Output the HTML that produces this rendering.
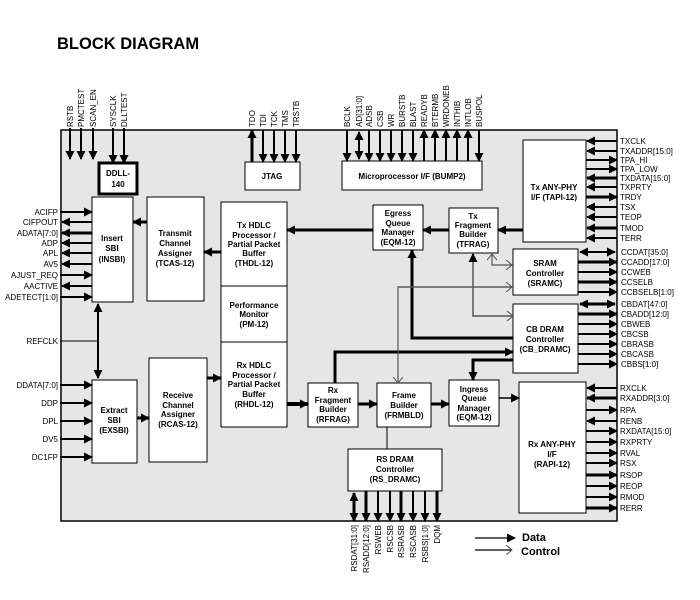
<!DOCTYPE html>
<html><head><meta charset="utf-8"><style>
body{margin:0;background:#fff}
svg{display:block;font-family:"Liberation Sans",sans-serif}
.b{font-weight:bold;font-size:8px;text-anchor:middle}
.p{font-size:8px}
.r{font-size:8px;text-anchor:end}
</style></head><body>
<svg width="700" height="600" viewBox="0 0 700 600">
<defs>
<marker id="a" markerUnits="userSpaceOnUse" markerWidth="9" markerHeight="9" refX="8" refY="4.5" orient="auto-start-reverse"><path d="M0,0L9,4.5L0,9z" fill="#000"/></marker>
<marker id="o" markerUnits="userSpaceOnUse" markerWidth="8" markerHeight="10" refX="7" refY="5" orient="auto-start-reverse"><path d="M1,0L7,5L1,10" fill="none" stroke="#555" stroke-width="1"/></marker>
</defs>
<text x="57" y="49" font-size="16.5" font-weight="bold">BLOCK DIAGRAM</text>
<rect x="61" y="130" width="556" height="391" fill="#e6e6e6" stroke="#000" stroke-width="1.5"/>

<g fill="#fff" stroke="#000" stroke-width="1">
<rect x="99" y="163" width="38" height="31" stroke-width="3"/>
<rect x="245" y="162" width="55" height="28"/>
<rect x="342" y="161" width="140" height="29"/>
<rect x="92" y="197" width="41" height="105"/>
<rect x="147" y="197" width="57" height="104"/>
<rect x="221" y="202" width="66" height="225"/>
<rect x="149" y="358" width="58" height="104"/>
<rect x="92" y="380" width="45" height="83"/>
<rect x="308" y="383" width="50" height="44"/>
<rect x="377" y="383" width="54" height="44"/>
<rect x="449" y="380" width="50" height="46"/>
<rect x="348" y="449" width="94" height="42"/>
<rect x="519" y="382" width="67" height="131"/>
<rect x="513" y="304" width="65" height="69"/>
<rect x="513" y="249" width="65" height="46"/>
<rect x="523" y="140" width="63" height="102"/>
<rect x="373" y="205" width="50" height="45"/>
<rect x="449" y="208" width="49" height="45"/>
</g>
<line x1="221" y1="286" x2="287" y2="286" stroke="#000"/>
<line x1="221" y1="342" x2="287" y2="342" stroke="#000"/>

<g class="b">
<text x="118" y="176">DDLL-</text><text x="118" y="187">140</text>
<text x="272" y="179">JTAG</text>
<text x="412" y="179">Microprocessor I/F (BUMP2)</text>
<text x="112" y="241">Insert</text><text x="112" y="251">SBI</text><text x="112" y="262">(INSBI)</text>
<text x="175" y="236">Transmit</text><text x="175" y="246">Channel</text><text x="175" y="256">Assigner</text><text x="175" y="266">(TCAS-12)</text>
<text x="254" y="228">Tx HDLC</text><text x="254" y="238">Processor /</text><text x="254" y="247">Partial Packet</text><text x="254" y="256">Buffer</text><text x="254" y="266">(THDL-12)</text>
<text x="254" y="308">Performance</text><text x="254" y="317">Monitor</text><text x="254" y="327">(PM-12)</text>
<text x="254" y="368">Rx HDLC</text><text x="254" y="378">Processor /</text><text x="254" y="387">Partial Packet</text><text x="254" y="397">Buffer</text><text x="254" y="407">(RHDL-12)</text>
<text x="178" y="398">Receive</text><text x="178" y="408">Channel</text><text x="178" y="417">Assigner</text><text x="178" y="427">(RCAS-12)</text>
<text x="114" y="413">Extract</text><text x="114" y="423">SBI</text><text x="114" y="433">(EXSBI)</text>
<text x="333" y="393">Rx</text><text x="333" y="403">Fragment</text><text x="333" y="412">Builder</text><text x="333" y="422">(RFRAG)</text>
<text x="404" y="398">Frame</text><text x="404" y="408">Builder</text><text x="404" y="418">(FRMBLD)</text>
<text x="474" y="392">Ingress</text><text x="474" y="401">Queue</text><text x="474" y="411">Manager</text><text x="474" y="420">(EQM-12)</text>
<text x="395" y="462">RS DRAM</text><text x="395" y="472">Controller</text><text x="395" y="482">(RS_DRAMC)</text>
<text x="552" y="447">Rx ANY-PHY</text><text x="552" y="457">I/F</text><text x="552" y="467">(RAPI-12)</text>
<text x="545" y="332">CB DRAM</text><text x="545" y="342">Controller</text><text x="545" y="352">(CB_DRAMC)</text>
<text x="545" y="266">SRAM</text><text x="545" y="276">Controller</text><text x="545" y="286">(SRAMC)</text>
<text x="554" y="190">Tx ANY-PHY</text><text x="554" y="200">I/F (TAPI-12)</text>
<text x="398" y="216">Egress</text><text x="398" y="226">Queue</text><text x="398" y="235">Manager</text><text x="398" y="245">(EQM-12)</text>
<text x="473" y="219">Tx</text><text x="473" y="228">Fragment</text><text x="473" y="237">Builder</text><text x="473" y="247">(TFRAG)</text>
</g>

<g stroke="#000" fill="none">
<g stroke-width="2" marker-end="url(#a)">
<line x1="70" y1="128" x2="70" y2="159"/><line x1="81" y1="128" x2="81" y2="159"/><line x1="93" y1="128" x2="93" y2="159"/>
<line x1="113" y1="128" x2="113" y2="163"/><line x1="124" y1="128" x2="124" y2="163"/>
<line x1="263" y1="130" x2="263" y2="162"/><line x1="274" y1="130" x2="274" y2="162"/><line x1="285" y1="130" x2="285" y2="162"/><line x1="296" y1="130" x2="296" y2="162"/>
<line x1="252" y1="162" x2="252" y2="130" stroke-width="3"/>
<line x1="347" y1="130" x2="347" y2="161"/>
<line x1="369" y1="130" x2="369" y2="161"/><line x1="380" y1="130" x2="380" y2="161"/><line x1="391" y1="130" x2="391" y2="161"/><line x1="402" y1="130" x2="402" y2="161"/><line x1="413" y1="130" x2="413" y2="161"/>
<line x1="424" y1="161" x2="424" y2="130"/><line x1="435" y1="161" x2="435" y2="130"/><line x1="446" y1="161" x2="446" y2="130"/><line x1="457" y1="161" x2="457" y2="130"/><line x1="468" y1="161" x2="468" y2="130"/>
<line x1="479" y1="130" x2="479" y2="161"/>
<line x1="359" y1="132" x2="359" y2="159" marker-start="url(#a)"/>
</g>
<g stroke-width="2" marker-end="url(#a)">
<line x1="60" y1="212" x2="92" y2="212"/>
<line x1="92" y1="222" x2="62" y2="222"/>
<line x1="92" y1="233" x2="62" y2="233" stroke-width="3"/>
<line x1="92" y1="243" x2="62" y2="243"/>
<line x1="92" y1="253" x2="62" y2="253"/>
<line x1="92" y1="264" x2="62" y2="264"/>
<line x1="60" y1="275" x2="92" y2="275"/>
<line x1="92" y1="286" x2="62" y2="286"/>
<line x1="60" y1="297" x2="92" y2="297"/>
<line x1="60" y1="385" x2="92" y2="385"/>
<line x1="60" y1="403" x2="92" y2="403"/>
<line x1="60" y1="421" x2="92" y2="421"/>
<line x1="60" y1="439" x2="92" y2="439"/>
<line x1="60" y1="457" x2="92" y2="457"/>
<line x1="98" y1="304" x2="98" y2="378" marker-start="url(#a)"/>
</g>
<line x1="60" y1="341" x2="98" y2="341" stroke-width="1"/>
<g stroke-width="2" marker-end="url(#a)">
<line x1="617" y1="141" x2="587" y2="141"/>
<line x1="617" y1="151" x2="587" y2="151"/>
<line x1="586" y1="160" x2="617" y2="160"/>
<line x1="586" y1="169" x2="617" y2="169"/>
<line x1="617" y1="178" x2="587" y2="178" stroke-width="3"/>
<line x1="617" y1="187" x2="587" y2="187"/>
<line x1="586" y1="197" x2="617" y2="197" stroke-width="3"/>
<line x1="617" y1="207" x2="587" y2="207"/>
<line x1="617" y1="217" x2="587" y2="217"/>
<line x1="617" y1="228" x2="587" y2="228" stroke-width="3"/>
<line x1="617" y1="238" x2="587" y2="238"/>
<line x1="580" y1="252" x2="615" y2="252" marker-start="url(#a)"/>
<line x1="578" y1="262" x2="617" y2="262" stroke-width="3"/>
<line x1="578" y1="272" x2="617" y2="272"/>
<line x1="578" y1="282" x2="617" y2="282" stroke-width="3"/>
<line x1="578" y1="292" x2="617" y2="292"/>
<line x1="580" y1="304" x2="615" y2="304" marker-start="url(#a)" stroke-width="3"/>
<line x1="578" y1="314" x2="617" y2="314" stroke-width="3"/>
<line x1="578" y1="324" x2="617" y2="324"/>
<line x1="578" y1="334" x2="617" y2="334"/>
<line x1="578" y1="344" x2="617" y2="344"/>
<line x1="578" y1="354" x2="617" y2="354"/>
<line x1="578" y1="364" x2="617" y2="364"/>
<line x1="617" y1="388" x2="587" y2="388"/>
<line x1="617" y1="398" x2="587" y2="398" stroke-width="3"/>
<line x1="586" y1="410" x2="617" y2="410"/>
<line x1="617" y1="421" x2="587" y2="421"/>
<line x1="586" y1="431" x2="617" y2="431"/>
<line x1="586" y1="442" x2="617" y2="442"/>
<line x1="586" y1="453" x2="617" y2="453"/>
<line x1="586" y1="463" x2="617" y2="463"/>
<line x1="586" y1="475" x2="617" y2="475" stroke-width="3"/>
<line x1="586" y1="486" x2="617" y2="486"/>
<line x1="586" y1="497" x2="617" y2="497"/>
<line x1="586" y1="508" x2="617" y2="508" stroke-width="3"/>
</g>
<g stroke-width="2" marker-end="url(#a)">
<line x1="354" y1="493" x2="354" y2="521" marker-start="url(#a)" stroke-width="3"/>
<line x1="366" y1="491" x2="366" y2="521" stroke-width="3"/>
<line x1="378" y1="491" x2="378" y2="521"/>
<line x1="390" y1="491" x2="390" y2="521"/>
<line x1="401" y1="491" x2="401" y2="521" stroke-width="3"/>
<line x1="413" y1="491" x2="413" y2="521"/>
<line x1="425" y1="491" x2="425" y2="521"/>
<line x1="437" y1="491" x2="437" y2="521" stroke-width="3"/>
</g>
<g stroke-width="3" marker-end="url(#a)">
<line x1="147" y1="222" x2="133" y2="222"/>
<line x1="221" y1="252" x2="204" y2="252"/>
<line x1="373" y1="230" x2="287" y2="230"/>
<line x1="449" y1="230" x2="423" y2="230"/>
<line x1="523" y1="230" x2="498" y2="230"/>
<line x1="137" y1="418" x2="149" y2="418"/>
<line x1="207" y1="378" x2="221" y2="378"/>
<line x1="287" y1="404" x2="308" y2="404" stroke-width="4"/>
<line x1="358" y1="404" x2="377" y2="404"/>
<line x1="431" y1="404" x2="449" y2="404"/>
<line x1="499" y1="398" x2="519" y2="398" stroke-width="1.5"/>
<polyline points="335,383 335,352 513,352"/>
<polyline points="513,360 473,360 473,380"/>
<polyline points="513,338 412,338 412,250"/>
</g>
<polyline points="473,253 473,316 513,316" stroke="#555" stroke-width="1.5" marker-end="url(#o)"/>
<line x1="473" y1="262" x2="473" y2="254" stroke="#000" stroke-width="2" marker-end="url(#a)"/>
<polyline points="513,287 398,287 398,383" stroke="#555" stroke-width="1.2" marker-end="url(#o)"/>
<line x1="398" y1="287" x2="512" y2="287" stroke="#555" stroke-width="1.2" marker-end="url(#o)"/>
<polyline points="492,254 492,265 512,265" stroke="#555" stroke-width="1.2" marker-start="url(#o)" marker-end="url(#o)"/>
<line x1="387" y1="427" x2="387" y2="449" stroke-width="1"/>
<line x1="475" y1="538" x2="515" y2="538" stroke-width="1.2" marker-end="url(#a)"/>
<line x1="475" y1="550" x2="512" y2="550" stroke="#000" stroke-width="1.2" marker-end="url(#o)"/>
</g>
<text x="522" y="541" font-size="11" font-weight="bold">Data</text>
<text x="521" y="555" font-size="11" font-weight="bold">Control</text>

<g class="p" transform="rotate(-90)">
<text x="-127" y="73">RSTB</text><text x="-127" y="84">PMCTEST</text><text x="-127" y="96">SCAN_EN</text>
<text x="-127" y="116">SYSCLK</text><text x="-127" y="127">DLLTEST</text>
<text x="-127" y="255">TDO</text><text x="-127" y="266">TDI</text><text x="-127" y="277">TCK</text><text x="-127" y="288">TMS</text><text x="-127" y="299">TRSTB</text>
<text x="-127" y="350">BCLK</text><text x="-127" y="362">AD[31:0]</text><text x="-127" y="372">ADSB</text><text x="-127" y="383">CSB</text><text x="-127" y="394">WR</text><text x="-127" y="405">BURSTB</text><text x="-127" y="416">BLAST</text><text x="-127" y="427">READYB</text><text x="-127" y="438">BTERMB</text><text x="-127" y="449">WRDONEB</text><text x="-127" y="460">INTHIB</text><text x="-127" y="471">INTLOB</text><text x="-127" y="482">BUSPOL</text>
</g>
<g class="r" transform="rotate(-90)">
<text x="-525" y="357">RSDAT[31:0]</text><text x="-525" y="369">RSADD[12:0]</text><text x="-525" y="381">RSWEB</text><text x="-525" y="393">RSCSB</text><text x="-525" y="404">RSRASB</text><text x="-525" y="416">RSCASB</text><text x="-525" y="428">RSBS[1:0]</text><text x="-525" y="440">DQM</text>
</g>
<g class="r">
<text x="58" y="215">ACIFP</text><text x="58" y="225">CIFPOUT</text><text x="58" y="236">ADATA[7:0]</text><text x="58" y="246">ADP</text><text x="58" y="256">APL</text><text x="58" y="267">AV5</text><text x="58" y="278">AJUST_REQ</text><text x="58" y="289">AACTIVE</text><text x="58" y="300">ADETECT[1:0]</text>
<text x="58" y="344">REFCLK</text>
<text x="58" y="388">DDATA[7:0]</text><text x="58" y="406">DDP</text><text x="58" y="424">DPL</text><text x="58" y="442">DV5</text><text x="58" y="460">DC1FP</text>
</g>
<g class="p">
<text x="620" y="144">TXCLK</text><text x="620" y="154">TXADDR[15:0]</text><text x="620" y="163">TPA_HI</text><text x="620" y="172">TPA_LOW</text><text x="620" y="181">TXDATA[15:0]</text><text x="620" y="190">TXPRTY</text><text x="620" y="200">TRDY</text><text x="620" y="210">TSX</text><text x="620" y="220">TEOP</text><text x="620" y="231">TMOD</text><text x="620" y="241">TERR</text>
<text x="621" y="255">CCDAT[35:0]</text><text x="621" y="265">CCADD[17:0]</text><text x="621" y="275">CCWEB</text><text x="621" y="285">CCSELB</text><text x="621" y="295">CCBSELB[1:0]</text>
<text x="621" y="307">CBDAT[47:0]</text><text x="621" y="317">CBADD[12:0]</text><text x="621" y="327">CBWEB</text><text x="621" y="337">CBCSB</text><text x="621" y="347">CBRASB</text><text x="621" y="357">CBCASB</text><text x="621" y="367">CBBS[1:0]</text>
<text x="620" y="391">RXCLK</text><text x="620" y="401">RXADDR[3:0]</text><text x="620" y="413">RPA</text><text x="620" y="424">RENB</text><text x="620" y="434">RXDATA[15:0]</text><text x="620" y="445">RXPRTY</text><text x="620" y="456">RVAL</text><text x="620" y="466">RSX</text><text x="620" y="478">RSOP</text><text x="620" y="489">REOP</text><text x="620" y="500">RMOD</text><text x="620" y="511">RERR</text>
</g>
</svg>
</body></html>
